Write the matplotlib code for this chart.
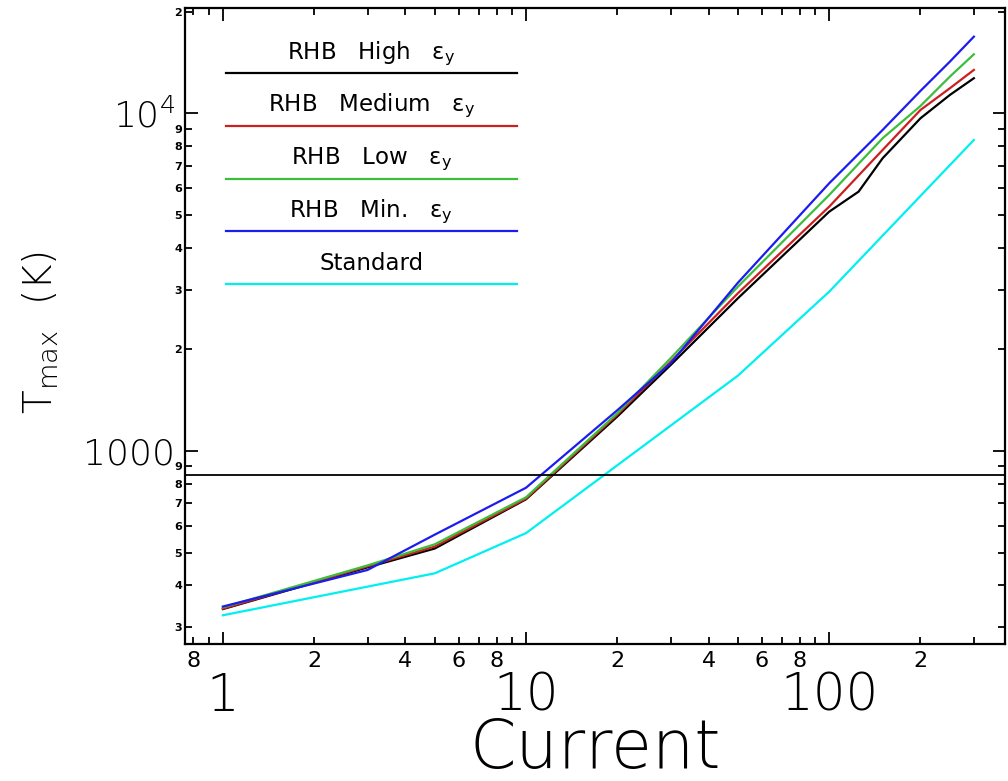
import matplotlib
matplotlib.use("Agg")
import matplotlib.pyplot as plt
from matplotlib.lines import Line2D

# Peak temperature versus current for the different cooling models
current = [1, 3, 5, 10, 20, 30, 50, 100, 150, 200, 250, 300]
current_high = [1, 3, 5, 10, 20, 30, 50, 100, 125, 150, 200, 250, 300]
current_std = [1, 5, 10, 50, 100, 300]

t_high = [340, 452, 514, 719, 1264, 1797, 2833, 5112, 5860, 7357, 9665, 11330, 12700]
t_medium = [341, 455, 521, 722, 1280, 1838, 2931, 5290, 7786, 10230, 11860, 13440]
t_low = [344, 458, 529, 729, 1293, 1882, 3066, 5728, 8433, 10510, 12840, 14950]
t_min = [346, 444, 565, 778, 1320, 1818, 3150, 6205, 8924, 11650, 14220, 16860]
t_std = [326, 434, 571, 1671, 2963, 8335]

threshold = 850

legend_labels = [r"RHB   High   $\mathregular{\varepsilon_y}$",
                 r"RHB   Medium   $\mathregular{\varepsilon_y}$",
                 r"RHB   Low   $\mathregular{\varepsilon_y}$",
                 r"RHB   Min.   $\mathregular{\varepsilon_y}$",
                 "Standard"]
colors = ["black", "#cc1f1f", "#3cbe3c", "#1c1cee", "#00f0f0"]

x_major = [1, 10, 100]
x_major_labels = ["1", "10", "100"]
x_minor = [0.8, 0.9, 2, 3, 4, 5, 6, 7, 8, 9, 20, 30, 40, 50, 60, 70, 80, 90, 200, 300]
x_minor_labels = ["8", "", "2", "", "4", "", "6", "", "8", "",
                  "2", "", "4", "", "6", "", "8", "", "2", ""]
y_major = [1000, 10000]
y_major_labels = ["1000", r"$\mathregular{10^4}$"]
y_minor = [300, 400, 500, 600, 700, 800, 900,
           2000, 3000, 4000, 5000, 6000, 7000, 8000, 9000, 20000]
y_minor_labels = ["3", "4", "5", "6", "7", "8", "9",
                  "2", "3", "4", "5", "6", "7", "8", "9", "2"]

W, H = 1008, 781
fig = plt.figure(figsize=(W / 100, H / 100), dpi=100)
ax = fig.add_axes([185 / W, 1 - 644 / H, 820 / W, 636 / H])
ax.set_xscale("log")
ax.set_yscale("log")
ax.set_xlim(0.75, 380)
ax.set_ylim(268, 20500)

series = [(current_high, t_high), (current, t_medium), (current, t_low),
          (current, t_min), (current_std, t_std)]
for (xs, ys), c in zip(series, colors):
    ax.plot(xs, ys, color=c, lw=1.6, solid_joinstyle="miter")

ax.axhline(threshold, color="black", lw=1.3)

# Ticks and labels
ax.set_xticks(x_major)
ax.set_xticklabels(x_major_labels, fontsize=37, fontweight="light")
ax.set_xticks(x_minor, minor=True)
ax.set_xticklabels(x_minor_labels, minor=True, fontsize=16)
ax.set_yticks(y_major)
ax.set_yticklabels(y_major_labels, fontsize=26, fontweight="light")
ax.set_yticks(y_minor, minor=True)
ax.set_yticklabels(y_minor_labels, minor=True, fontsize=8, fontweight="bold")

ax.tick_params(which="both", direction="in", top=True, right=True,
               width=1.3, color="black")
ax.tick_params(which="major", length=9)
ax.tick_params(which="minor", length=4.8)
ax.tick_params(axis="x", which="major", pad=20)
ax.tick_params(axis="x", which="minor", pad=5)
ax.tick_params(axis="y", which="major", pad=7)
ax.tick_params(axis="y", which="minor", pad=2)

for s in ax.spines.values():
    s.set_linewidth(1.6)

ax.set_xlabel("Current", fontsize=48, fontweight="light")
ax.xaxis.set_label_coords(0.5, -0.113)
ax.set_ylabel(r"$\mathregular{T_{max}}$  (K)", fontsize=28, fontweight="light")
ax.yaxis.set_label_coords(-0.152, 0.49)

# Legend: label text centred above each coloured key line
x0, x1 = 0.05, 0.4045
y_top, step = 0.8973, 0.0829
for i, (lab, c) in enumerate(zip(legend_labels, colors)):
    yl = y_top - i * step
    ax.add_line(Line2D([x0, x1], [yl, yl], transform=ax.transAxes,
                       color=c, lw=1.6))
    ax.text((x0 + x1) / 2, yl + 0.023, lab, transform=ax.transAxes,
            ha="center", va="baseline", fontsize=16.5)

fig.savefig("out.png", dpi=100)
